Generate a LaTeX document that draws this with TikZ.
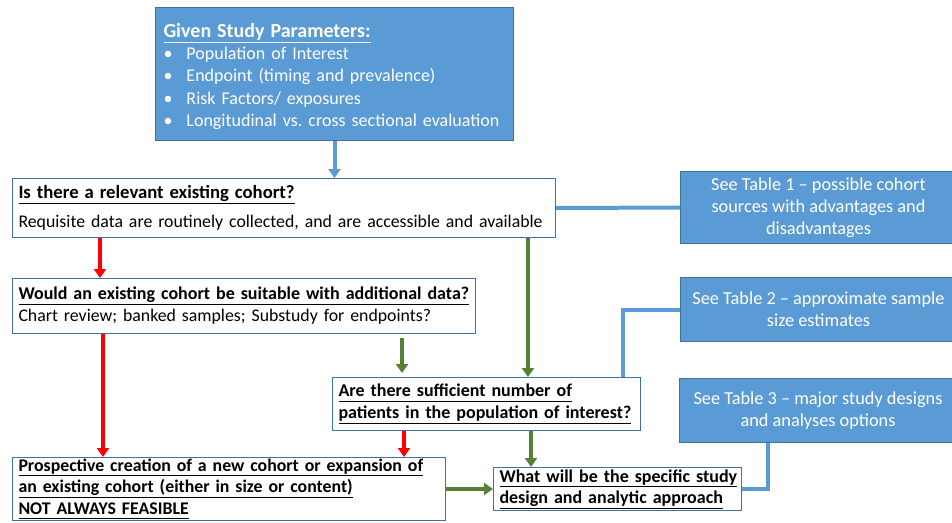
\documentclass[tikz,border=0pt]{standalone}
\usepackage{fontspec}
\setmainfont{Carlito}
\usepackage{tikz}
\usetikzlibrary{arrows.meta}
\frenchspacing

\definecolor{boxblue}{HTML}{5B9BD5}
\definecolor{edgeblue}{HTML}{41719C}
\definecolor{yesgreen}{HTML}{548235}
\definecolor{nored}{HTML}{FF0000}

\tikzset{
  bluebox/.style={draw=edgeblue, line width=1pt, fill=boxblue, text=white,
    anchor=north west, inner sep=0pt},
  askbox/.style={draw=edgeblue, line width=1pt, fill=white, text=black,
    anchor=north west, align=left, inner xsep=6pt, inner ysep=0pt},
  noarrow/.style={draw=nored, line width=3.5pt,
    -{Triangle[width=12pt,length=9pt]}},
  yesarrow/.style={draw=yesgreen, line width=3.5pt,
    -{Triangle[width=12pt,length=9pt]}},
  tableline/.style={draw=boxblue, line width=4pt}
}

\newcommand{\hd}[1]{\underline{\textbf{#1}\vphantom{gy}}}
\newcommand{\ul}[1]{\underline{#1\vphantom{gy}}}
\newcommand{\bul}{\makebox[23pt][l]{\textbullet}}

\begin{document}
\begin{tikzpicture}[x=1pt, y=-1pt]

  \useasboundingbox (0,0) rectangle (952,522);

  %% The given parameters:
  \node[bluebox, minimum height=133, text width=342, inner xsep=8pt,
    align=left, font=\fontsize{18}{22.3}\selectfont] (params) at (155,7)
  {{\fontsize{20}{22}\selectfont\rule{0pt}{19pt}\hd{Given Study Parameters:}}\\
   \bul Population of Interest\\
   \bul Endpoint (timing and prevalence)\\
   \bul Risk Factors/ exposures\\
   \bul Longitudinal vs. cross sectional evaluation};

  %% The questions:
  \node[askbox, minimum height=59, text width=531,
    font=\fontsize{17.8}{29}\selectfont] (cohort) at (12,178)
  {{\fontsize{18.7}{20}\selectfont\hd{Is there a relevant existing cohort?}}\\
   Requisite data are routinely collected, and are accessible and available};

  \node[askbox, minimum height=55, text width=451,
    font=\fontsize{17.8}{22}\selectfont] (extra) at (12,278)
  {{\fontsize{18}{20}\selectfont\hd{Would an existing cohort be suitable with additional data?}}\\
   Chart review; banked samples; Substudy for endpoints?};

  \node[askbox, minimum height=53, text width=296,
    font=\bfseries\fontsize{18}{22}\selectfont] (enough) at (332,377)
  {\ul{Are there sufficient number of}\\
   \ul{patients in the population of interest?}};

  \node[askbox, minimum height=63, text width=421,
    font=\bfseries\fontsize{17.8}{21.5}\selectfont] (newcoh) at (12,457)
  {\ul{Prospective creation of a new cohort or expansion of}\\
   \ul{an existing cohort (either in size or content)}\\
   \ul{NOT ALWAYS FEASIBLE}};

  \node[askbox, minimum height=43, text width=236,
    font=\bfseries\fontsize{18}{21.5}\selectfont] (design) at (493,467)
  {\ul{What will be the specific study}\\
   \ul{design and analytic approach}};

  %% The tables:
  \node[bluebox, minimum width=276, minimum height=72, align=center,
    font=\fontsize{18.3}{22}\selectfont] (tabone) at (680,171)
  {See Table 1 -- possible cohort\\ sources with advantages and\\ disadvantages};
  \node[bluebox, minimum width=276, minimum height=64, align=center,
    font=\fontsize{18.3}{22}\selectfont] (tabtwo) at (680,277)
  {See Table 2 -- approximate sample\\ size estimates};
  \node[bluebox, minimum width=277, minimum height=64, align=center,
    font=\fontsize{18.3}{22}\selectfont] (tabthree) at (679,378)
  {See Table 3 -- major study designs\\ and analyses options};

  %% The connections:
  \draw[tableline, -{Triangle[width=12pt,length=9pt]}] (params.south)
  -- (params.south |- cohort.north);
  \draw[tableline] (cohort.east) -- (tabone.west);
  \draw[tableline] (tabtwo.west) -| ([xshift=-18]enough.north east);
  \draw[tableline] ([xshift=-50]tabthree.south) |- (design.east);

  \draw[noarrow] ([xshift=88]cohort.south west) -- ([xshift=88]extra.north west);
  \draw[noarrow] ([xshift=91]extra.south west) -- ([xshift=91]newcoh.north west);
  \coordinate (nofew) at ([xshift=72]enough.south west);
  \draw[noarrow] (nofew) -- (nofew |- newcoh.north);

  \coordinate (yesone) at ([xshift=516]cohort.south west);
  \draw[yesarrow] (yesone) -- (yesone |- enough.north);
  \coordinate (yestwo) at ([xshift=390, yshift=-4]extra.south west);
  \draw[yesarrow] (yestwo) -- ([yshift=4]yestwo |- enough.north);
  \coordinate (yesthree) at ([xshift=199]enough.south west);
  \draw[yesarrow] (yesthree) -- (yesthree |- design.north);
  \draw[yesarrow] (newcoh.east) -- (design.west);

\end{tikzpicture}
\end{document}
